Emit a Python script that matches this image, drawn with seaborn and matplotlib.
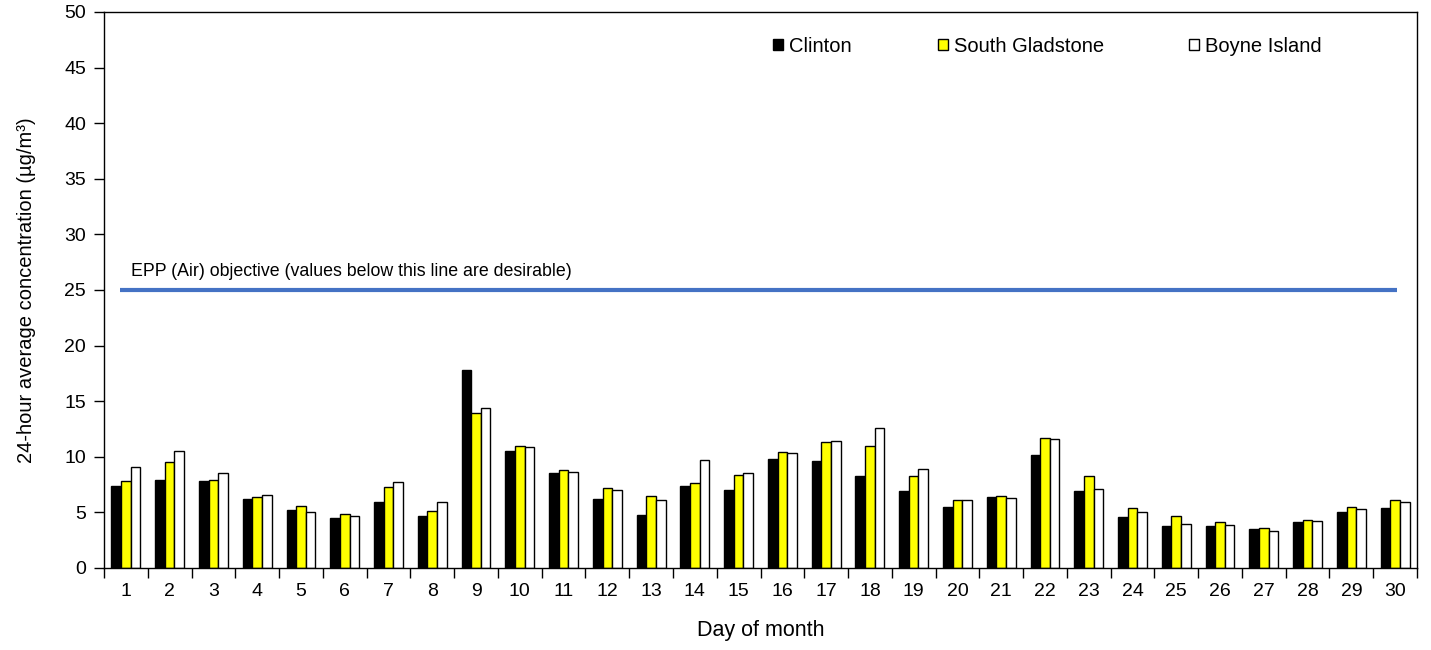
import numpy as np
import pandas as pd
import matplotlib
matplotlib.use("Agg")
import matplotlib.pyplot as plt
from matplotlib.patches import Patch
import seaborn as sns

days = list(range(1, 31))
clinton = [7.4, 7.9, 7.8, 6.2, 5.2, 4.5, 5.9, 4.7, 17.8, 10.5,
           8.5, 6.2, 4.8, 7.4, 7.0, 9.8, 9.6, 8.3, 6.9, 5.5,
           6.4, 10.2, 6.9, 4.6, 3.8, 3.8, 3.5, 4.1, 5.0, 5.4]
south_gladstone = [7.8, 9.5, 7.9, 6.4, 5.6, 4.9, 7.3, 5.1, 13.9, 11.0,
                   8.8, 7.2, 6.5, 7.6, 8.4, 10.4, 11.3, 11.0, 8.3, 6.1,
                   6.5, 11.7, 8.3, 5.4, 4.7, 4.1, 3.6, 4.3, 5.5, 6.1]
boyne_island = [9.1, 10.5, 8.5, 6.6, 5.0, 4.7, 7.7, 5.9, 14.4, 10.9,
                8.6, 7.0, 6.1, 9.7, 8.5, 10.3, 11.4, 12.6, 8.9, 6.1,
                6.3, 11.6, 7.1, 5.0, 4.0, 3.9, 3.3, 4.2, 5.3, 5.9]
sites = ["Clinton", "South Gladstone", "Boyne Island"]
colors = ["#000000", "#ffff00", "#ffffff"]
objective = 25

df = pd.DataFrame({
    "day": days * 3,
    "site": [s for s in sites for _ in days],
    "value": clinton + south_gladstone + boyne_island,
})

sns.set_theme(style="white")
plt.rcParams["font.family"] = ["Liberation Sans", "DejaVu Sans"]
plt.rcParams["text.color"] = "black"
plt.rcParams["axes.labelcolor"] = "black"
plt.rcParams["xtick.color"] = "black"
plt.rcParams["ytick.color"] = "black"

W, H = 1431, 650
fig = plt.figure(figsize=(W / 100, H / 100), dpi=100)
ax = fig.add_axes([104 / W, 82 / H, 1313 / W, 556 / H])

sns.barplot(data=df, x="day", y="value", hue="site", hue_order=sites,
            palette=colors, width=0.66, edgecolor="black", linewidth=1.0,
            saturation=1, legend=False, ax=ax)

ax.plot([-0.13, 29.04], [objective, objective], color="#4472c4", lw=3, solid_capstyle="butt")
ax.text(0.12, objective + 0.9, "EPP (Air) objective (values below this line are desirable)",
        fontsize=12.8, ha="left", va="bottom")

ax.set_xlim(-0.5, 29.5)
ax.set_ylim(0, 50)
ax.set_yticks(np.arange(0, 51, 5))
ax.set_xticks(np.arange(-0.5, 30, 1), minor=True)
ax.tick_params(axis="x", which="major", length=0, labelsize=14, pad=11)
ax.tick_params(axis="x", which="minor", length=7, width=1, direction="out", bottom=True)
ax.tick_params(axis="y", length=7, width=1, direction="out", left=True, labelsize=14, pad=6)
for sp in ax.spines.values():
    sp.set_color("black")
    sp.set_linewidth(1)

ax.set_xlabel("Day of month", fontsize=15.5, labelpad=14)
ax.set_ylabel("24-hour average concentration (µg/m³)", fontsize=14.5, labelpad=20)

# one legend entry per site, placed where the reference puts them
legend_x = [773, 938, 1189]
for name, c, lx in zip(sites, colors, legend_x):
    fig.legend([Patch(facecolor=c, edgecolor="black", linewidth=1)], [name],
               loc="center left", bbox_to_anchor=(lx / W, 1 - 46 / H),
               frameon=False, fontsize=14.5, handlelength=0.5, handleheight=0.5,
               handletextpad=0.3, borderpad=0, borderaxespad=0)

fig.savefig("out.png", dpi=100)
